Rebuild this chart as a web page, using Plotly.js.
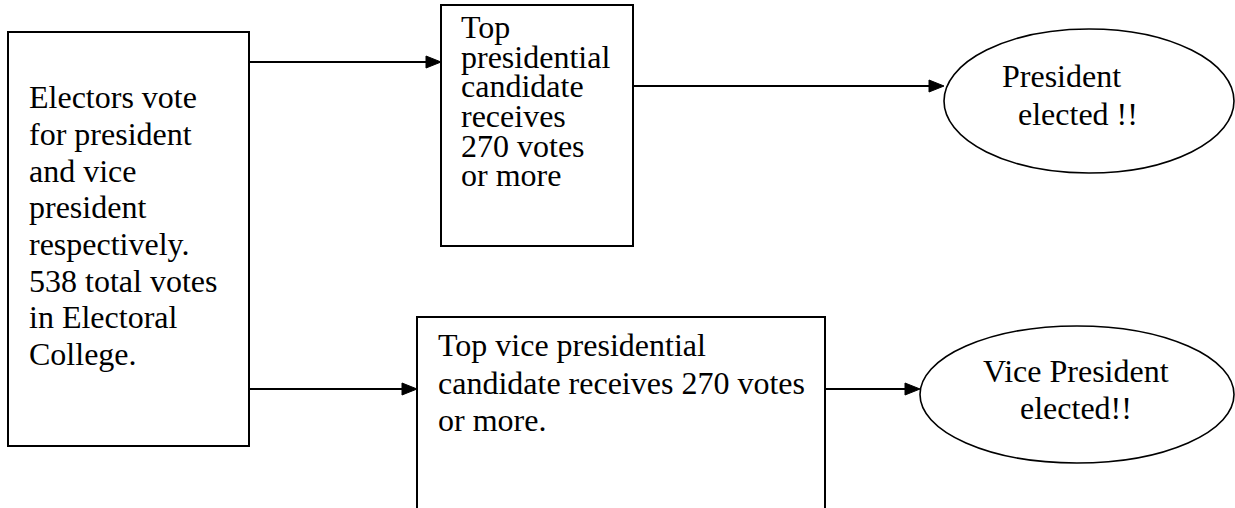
<!DOCTYPE html>
<html>
<head>
<meta charset="utf-8">
<script src="https://cdn.plot.ly/plotly-3.0.1.min.js"></script>
<style>html,body{margin:0;padding:0;background:#fff;}#chart{width:1235px;height:508px;}</style>
</head>
<body>
<div id="chart"></div>
<script>
// ---- content (texts of the flowchart nodes) ----
const electorsLines = ["Electors vote", "for president", "and vice", "president", "respectively.", "538 total votes", "in Electoral", "College."];
const presCandidateLines = ["Top", "presidential", "candidate", "receives", "270 votes", "or more"];
const vpCandidateLines = ["Top vice presidential", "candidate receives 270 votes", "or more."];
const presResultLines = ["President", "elected !!"];
const vpResultLines = ["Vice President", "elected!!"];
const flowEdges = [["electors", "presCand"], ["presCand", "presRes"], ["electors", "vpCand"], ["vpCand", "vpRes"]];

// ---- geometry (layout only) ----
const nodes = {
  electors: {kind: "rect", x0: 8, x1: 249, y0: 32, y1: 446, lines: electorsLines, tx: [29], base: 108, step: 36.7, anchor: "left"},
  presCand: {kind: "rect", x0: 441, x1: 633, y0: 5, y1: 246, lines: presCandidateLines, tx: [461], base: 38, step: 29.6, anchor: "left"},
  vpCand:   {kind: "rect", x0: 417, x1: 825, y0: 317, y1: 540, lines: vpCandidateLines, tx: [438], base: 356, step: 37.5, anchor: "left"},
  presRes:  {kind: "circle", x0: 944, x1: 1234, y0: 29, y1: 173, lines: presResultLines, tx: [1002, 1018], base: 87, step: 38, anchor: "left"},
  vpRes:    {kind: "circle", x0: 920, x1: 1234, y0: 326, y1: 463, lines: vpResultLines, tx: [1076], base: 382, step: 37, anchor: "center"}
};
const edgeY = [62, 86, 389, 389];

const FONT = {family: "Liberation Serif", size: 32, color: "#000"};
const shapes = [];
const annotations = [];

Object.keys(nodes).forEach(k => {
  const n = nodes[k];
  shapes.push({type: n.kind, xref: "x", yref: "y", x0: n.x0, x1: n.x1, y0: n.y0, y1: n.y1,
    line: {color: "#000", width: n.kind === "rect" ? 2 : 1.6}, fillcolor: "rgba(0,0,0,0)", layer: "above"});
  n.lines.forEach((t, i) => {
    const x = n.tx[Math.min(i, n.tx.length - 1)];
    annotations.push({text: t, x: x, y: n.base + i * n.step - 10.8, xref: "x", yref: "y",
      xanchor: n.anchor, yanchor: "middle", showarrow: false, font: FONT, borderpad: 0, borderwidth: 0});
  });
});

const AH_LEN = 15, AH_HALF = 6;
flowEdges.forEach((e, i) => {
  const a = nodes[e[0]], b = nodes[e[1]];
  const y = edgeY[i];
  const xs = a.x1, xt = b.x0;
  shapes.push({type: "line", xref: "x", yref: "y", x0: xs, x1: xt - AH_LEN + 1, y0: y, y1: y, line: {color: "#000", width: 2}});
  shapes.push({type: "path", xref: "x", yref: "y",
    path: `M ${xt},${y} L ${xt - AH_LEN},${y - AH_HALF} L ${xt - AH_LEN},${y + AH_HALF} Z`,
    fillcolor: "#000", line: {color: "#000", width: 1}});
});

const layout = {
  width: 1235, height: 508,
  margin: {l: 0, r: 0, t: 0, b: 0, pad: 0},
  paper_bgcolor: "#fff", plot_bgcolor: "#fff",
  font: {family: "Liberation Serif"},
  xaxis: {range: [0, 1235], visible: false, fixedrange: true},
  yaxis: {range: [508, 0], visible: false, fixedrange: true},
  showlegend: false,
  shapes: shapes,
  annotations: annotations
};

Plotly.newPlot("chart", [], layout, {displayModeBar: false, staticPlot: true});
</script>
</body>
</html>
